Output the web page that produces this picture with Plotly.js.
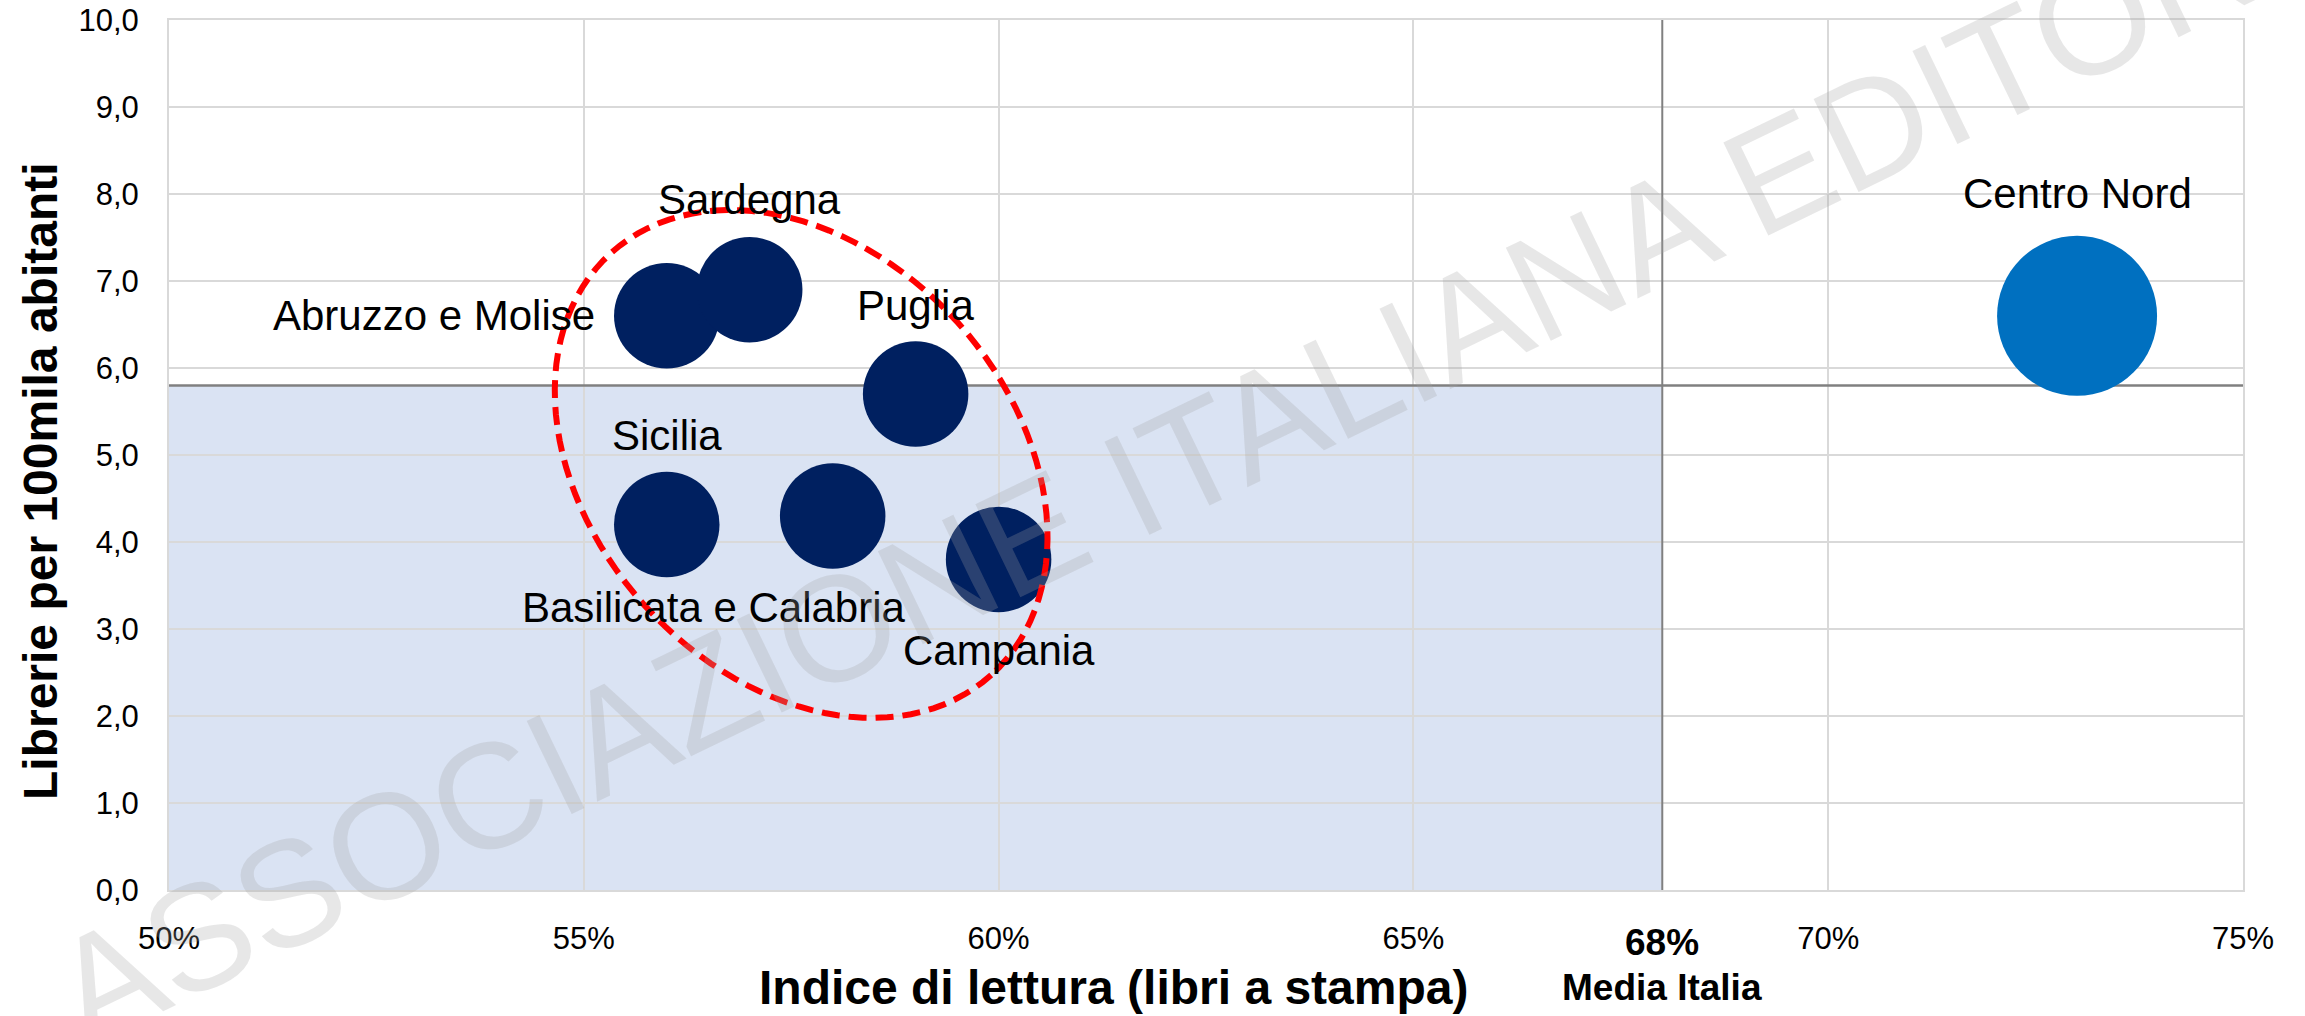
<!DOCTYPE html>
<html>
<head>
<meta charset="utf-8">
<script src="https://cdn.plot.ly/plotly-3.0.1.min.js"></script>
<style>html,body{margin:0;padding:0;background:#fff;}#chart{width:2305px;height:1016px;}</style>
</head>
<body>
<div id="chart"></div>
<script>
// ---------------- DATA ----------------
const categories = ['Abruzzo e Molise', 'Sardegna', 'Puglia', 'Sicilia', 'Basilicata e Calabria', 'Campania', 'Centro Nord'];
const readingIndex = [0.56, 0.57, 0.59, 0.56, 0.58, 0.60, 0.73];      // Indice di lettura
const bookshopsPer100k = [6.6, 6.9, 5.7, 4.2, 4.3, 3.8, 6.6];          // Librerie per 100mila abitanti
const bubbleSize = [10, 10, 10, 10, 10, 10, 23];
const areaGroup = ['Sud', 'Sud', 'Sud', 'Sud', 'Sud', 'Sud', 'Centro Nord'];
const italyAvgReading = 0.68;     // Media Italia
const italyAvgShops = 5.8;
const avgLabel = '68%';
const avgCaption = 'Media Italia';
const xTitle = 'Indice di lettura (libri a stampa)';
const yTitle = 'Librerie per 100mila abitanti';
const watermark = 'ASSOCIAZIONE ITALIANA EDITORI';

// ---------------- STYLE / LAYOUT ----------------
const W = 2305, H = 1016;
const M = {l: 169, r: 62, t: 20, b: 126};
const xRange = [0.5, 0.75], yRange = [0, 10];
const plotW = W - M.l - M.r, plotH = H - M.t - M.b;
const pxPerX = plotW / (xRange[1] - xRange[0]);
const pxPerY = plotH / (yRange[1] - yRange[0]);
const FONT = 'Liberation Sans, Arial, sans-serif';
const groupColor = {'Sud': '#002060', 'Centro Nord': '#0070C0'};
const maxBubblePx = 160;

// label offsets in pixels relative to bubble centre
const labelPos = {
  'Abruzzo e Molise':      {xanchor: 'right',  dx: -70,  dy: 0},
  'Sardegna':              {xanchor: 'center', dx: 0,    dy: 90},
  'Puglia':                {xanchor: 'center', dx: 0,    dy: 89},
  'Sicilia':               {xanchor: 'center', dx: 0,    dy: 89},
  'Basilicata e Calabria': {xanchor: 'center', dx: -119, dy: -92},
  'Campania':              {xanchor: 'center', dx: 0,    dy: -91},
  'Centro Nord':           {xanchor: 'center', dx: 0,    dy: 122}
};

const trace = {
  type: 'scatter',
  mode: 'markers',
  x: readingIndex,
  y: bookshopsPer100k,
  text: categories,
  hoverinfo: 'skip',
  marker: {
    size: bubbleSize,
    sizemode: 'area',
    sizeref: 2 * Math.max(...bubbleSize) / (maxBubblePx * maxBubblePx),
    color: areaGroup.map(g => groupColor[g]),
    opacity: 1,
    line: {width: 0}
  },
  showlegend: false
};

// red dashed ellipse around the southern regions (drawn in pixel geometry)
const ell = {cx: 0.5762, cy: 4.897, a: 284, b: 211, angleDeg: 48};
function ellipsePath(e) {
  const th = e.angleDeg * Math.PI / 180;
  const n = 120;
  let d = '';
  for (let i = 0; i <= n; i++) {
    const t = 2 * Math.PI * i / n;
    const px = e.a * Math.cos(t) * Math.cos(th) - e.b * Math.sin(t) * Math.sin(th);
    const py = e.a * Math.cos(t) * Math.sin(th) + e.b * Math.sin(t) * Math.cos(th);
    const xd = e.cx + px / pxPerX;
    const yd = e.cy - py / pxPerY;
    d += (i === 0 ? 'M' : 'L') + xd.toFixed(6) + ',' + yd.toFixed(5);
  }
  return d + 'Z';
}

const shapes = [
  {type: 'rect', xref: 'x', yref: 'y', x0: xRange[0], x1: italyAvgReading, y0: yRange[0], y1: italyAvgShops,
   fillcolor: '#DAE3F3', line: {width: 0}, layer: 'below'},
  {type: 'line', xref: 'x', yref: 'y', x0: italyAvgReading, x1: italyAvgReading, y0: yRange[0], y1: yRange[1],
   line: {color: '#808080', width: 2}, layer: 'between'},
  {type: 'line', xref: 'x', yref: 'y', x0: xRange[0], x1: xRange[1], y0: italyAvgShops, y1: italyAvgShops,
   line: {color: '#808080', width: 2.5}, layer: 'between'},
  {type: 'path', xref: 'x', yref: 'y', path: ellipsePath(ell),
   line: {color: '#FF0000', width: 6, dash: '18px,9px'}, fillcolor: 'rgba(0,0,0,0)', layer: 'above'}
];

const annotations = categories.map((c, i) => ({
  xref: 'x', yref: 'y', x: readingIndex[i], y: bookshopsPer100k[i],
  text: c, showarrow: false,
  xanchor: labelPos[c].xanchor, yanchor: 'middle',
  xshift: labelPos[c].dx, yshift: labelPos[c].dy,
  font: {family: FONT, size: 42, color: '#000'}
}));

annotations.push(
  {xref: 'x', yref: 'paper', x: italyAvgReading, y: -(942 - (M.t + plotH)) / plotH, text: '<b>' + avgLabel + '</b>',
   showarrow: false, xanchor: 'center', yanchor: 'middle', font: {family: FONT, size: 37, color: '#000'}},
  {xref: 'x', yref: 'paper', x: italyAvgReading, y: -(988 - (M.t + plotH)) / plotH, text: '<b>' + avgCaption + '</b>',
   showarrow: false, xanchor: 'center', yanchor: 'middle', font: {family: FONT, size: 37, color: '#000'}},
  {xref: 'paper', yref: 'paper', x: (1113 - M.l) / plotW, y: -(988 - (M.t + plotH)) / plotH, text: '<b>' + xTitle + '</b>',
   showarrow: false, xanchor: 'center', yanchor: 'middle', font: {family: FONT, size: 48, color: '#000'}},
  {xref: 'paper', yref: 'paper', x: (40 - M.l) / plotW, y: (M.t + plotH - 481) / plotH, text: '<b>' + yTitle + '</b>',
   showarrow: false, textangle: -90, xanchor: 'center', yanchor: 'middle', font: {family: FONT, size: 48, color: '#000'}},
  {xref: 'paper', yref: 'paper', x: (1172 - M.l) / plotW, y: (M.t + plotH - 466) / plotH, text: watermark,
   showarrow: false, textangle: -25.8, xanchor: 'center', yanchor: 'middle',
   font: {family: FONT, size: 150, color: 'rgba(163,163,163,0.26)'}}
);

const layout = {
  width: W, height: H, autosize: false,
  margin: M,
  paper_bgcolor: '#fff', plot_bgcolor: '#fff',
  separators: ',.',
  showlegend: false,
  hovermode: false,
  xaxis: {
    range: xRange, dtick: 0.05, tick0: 0.5, tickformat: '.0%',
    showgrid: true, gridcolor: '#D9D9D9', gridwidth: 2,
    zeroline: false, showline: true, mirror: true, linecolor: '#D9D9D9', linewidth: 2,
    ticks: '', ticklabelstandoff: 20,
    tickfont: {family: FONT, size: 31, color: '#000'},
    fixedrange: true
  },
  yaxis: {
    range: yRange, dtick: 1, tick0: 0, tickformat: '.1f',
    showgrid: true, gridcolor: '#D9D9D9', gridwidth: 2,
    zeroline: false, showline: true, mirror: true, linecolor: '#D9D9D9', linewidth: 2,
    ticks: '', ticklabelstandoff: 22,
    tickfont: {family: FONT, size: 31, color: '#000'},
    fixedrange: true
  },
  shapes: shapes,
  annotations: annotations
};

Plotly.newPlot('chart', [trace], layout, {displayModeBar: false, staticPlot: true});
</script>
</body>
</html>
